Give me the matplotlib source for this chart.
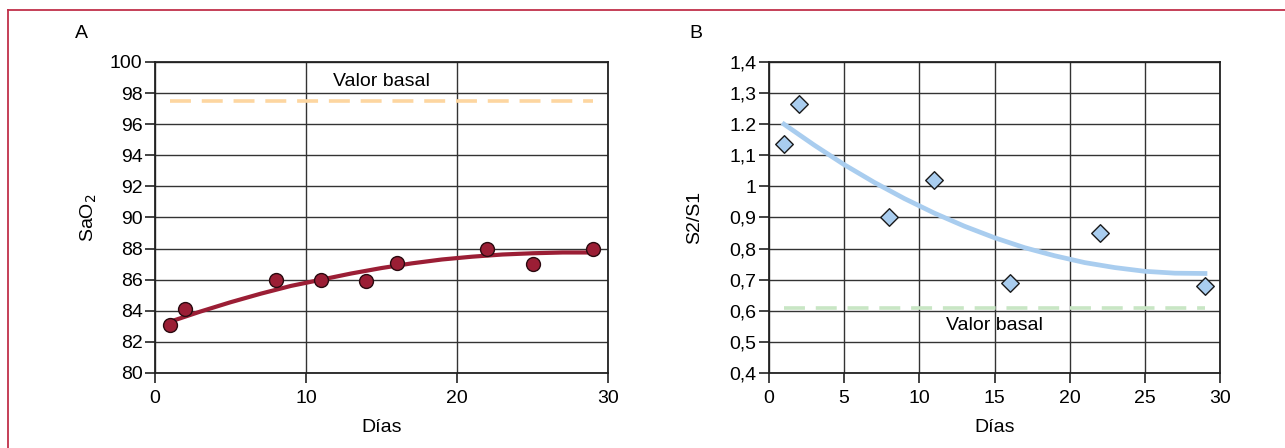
#!/usr/bin/env python3
"""SaO2 and S2/S1 evolution over days, two-panel figure."""

import matplotlib

matplotlib.use("Agg")
import matplotlib.pyplot as plt
from matplotlib.lines import Line2D

plt.rcParams["font.family"] = ["Liberation Sans", "DejaVu Sans"]

# panel A: SaO2
dias_a = [1, 2, 8, 11, 14, 16, 22, 25, 29]
sao2 = [83.1, 84.1, 86.0, 86.0, 85.9, 87.1, 88.0, 87.0, 88.0]
trend_a_x = [1, 3, 5, 7, 9, 11, 13, 15, 17, 19, 21, 23, 25, 27, 29]
trend_a_y = [83.3, 83.95, 84.55, 85.1, 85.6, 86.0, 86.4, 86.75, 87.05,
             87.3, 87.48, 87.62, 87.7, 87.75, 87.75]
basal_a = 97.5

# panel B: S2/S1
dias_b = [1, 2, 8, 11, 16, 22, 29]
s2s1 = [1.135, 1.265, 0.90, 1.02, 0.69, 0.85, 0.68]
trend_b_x = [1, 3, 5, 7, 9, 11, 13, 15, 17, 19, 21, 23, 25, 27, 29]
trend_b_y = [1.200, 1.133, 1.070, 1.013, 0.961, 0.914, 0.872, 0.835, 0.803,
             0.777, 0.755, 0.739, 0.727, 0.721, 0.720]
basal_b = 0.61

yticks_a = list(range(80, 101, 2))
yticks_b = [0.4, 0.5, 0.6, 0.7, 0.8, 0.9, 1.0, 1.1, 1.2, 1.3, 1.4]
ylabels_b = ["0,4", "0,5", "0,6", "0,7", "0,8", "0,9", "1", "1,1", "1.2", "1,3", "1,4"]

GRID = "#333333"
FS = 14


def style_axes(ax):
    ax.grid(True, color=GRID, linewidth=1.0)
    ax.set_axisbelow(True)
    for s in ax.spines.values():
        s.set_color("#222222")
        s.set_linewidth(1.3)
    ax.tick_params(axis="both", direction="out", length=7, width=1.2,
                   color="#222222", labelsize=FS, pad=2)
    ax.tick_params(axis="x", pad=5)


fig = plt.figure(figsize=(12.85, 4.48), dpi=100)

# axes A: x 155..608, y 62..373 (px)
ax_a = fig.add_axes([155 / 1285, 1 - 373 / 448, 453 / 1285, 311 / 448])
style_axes(ax_a)
ax_a.plot([1, 29], [basal_a, basal_a], color="#fdd6a0", linewidth=2.6,
          dashes=(5.8, 3.0), zorder=2)
ax_a.plot(trend_a_x, trend_a_y, color="#9b1e35", linewidth=3.0,
          solid_capstyle="butt", zorder=3)
ax_a.scatter(dias_a, sao2, s=100, color="#9b1e35", edgecolors="#2a0a10",
             linewidths=1.0, zorder=4)
ax_a.text(15, 98.75, "Valor basal", ha="center", va="center", fontsize=FS)
ax_a.set_xlim(0, 30)
ax_a.set_ylim(80, 100)
ax_a.set_xticks([0, 10, 20, 30])
ax_a.set_yticks(yticks_a)
ax_a.set_xlabel("Días", fontsize=FS, labelpad=9)
ax_a.set_ylabel("SaO$_2$", fontsize=FS, labelpad=8)

# axes B: x 769..1220
ax_b = fig.add_axes([769 / 1285, 1 - 373 / 448, 451 / 1285, 311 / 448])
style_axes(ax_b)
ax_b.plot([1, 29], [basal_b, basal_b], color="#c8e6c4", linewidth=2.6,
          dashes=(5.8, 3.0), zorder=2)
ax_b.plot(trend_b_x, trend_b_y, color="#a9cdef", linewidth=3.4, zorder=3)
ax_b.scatter(dias_b, s2s1, s=80, marker="D", color="#a9cdef",
             edgecolors="#1a1a1a", linewidths=1.0, zorder=4)
ax_b.text(15, 0.554, "Valor basal", ha="center", va="center", fontsize=FS)
ax_b.set_xlim(0, 30)
ax_b.set_ylim(0.4, 1.4)
ax_b.set_xticks([0, 5, 10, 15, 20, 25, 30])
ax_b.set_yticks(yticks_b)
ax_b.set_yticklabels(ylabels_b)
ax_b.set_xlabel("Días", fontsize=FS, labelpad=9)
ax_b.set_ylabel("S2/S1", fontsize=FS, labelpad=19)

fig.text(75 / 1285, 1 - 33 / 448, "A", fontsize=FS, va="center")
fig.text(689 / 1285, 1 - 33 / 448, "B", fontsize=FS, va="center")

# red frame (top and left edges)
red = "#c0304a"
fig.add_artist(Line2D([8 / 1285, 1], [1 - 10 / 448, 1 - 10 / 448],
                      transform=fig.transFigure, color=red, linewidth=1.3))
fig.add_artist(Line2D([8 / 1285, 8 / 1285], [0, 1 - 10 / 448],
                      transform=fig.transFigure, color=red, linewidth=1.3))

fig.savefig("out.png", dpi=100)
